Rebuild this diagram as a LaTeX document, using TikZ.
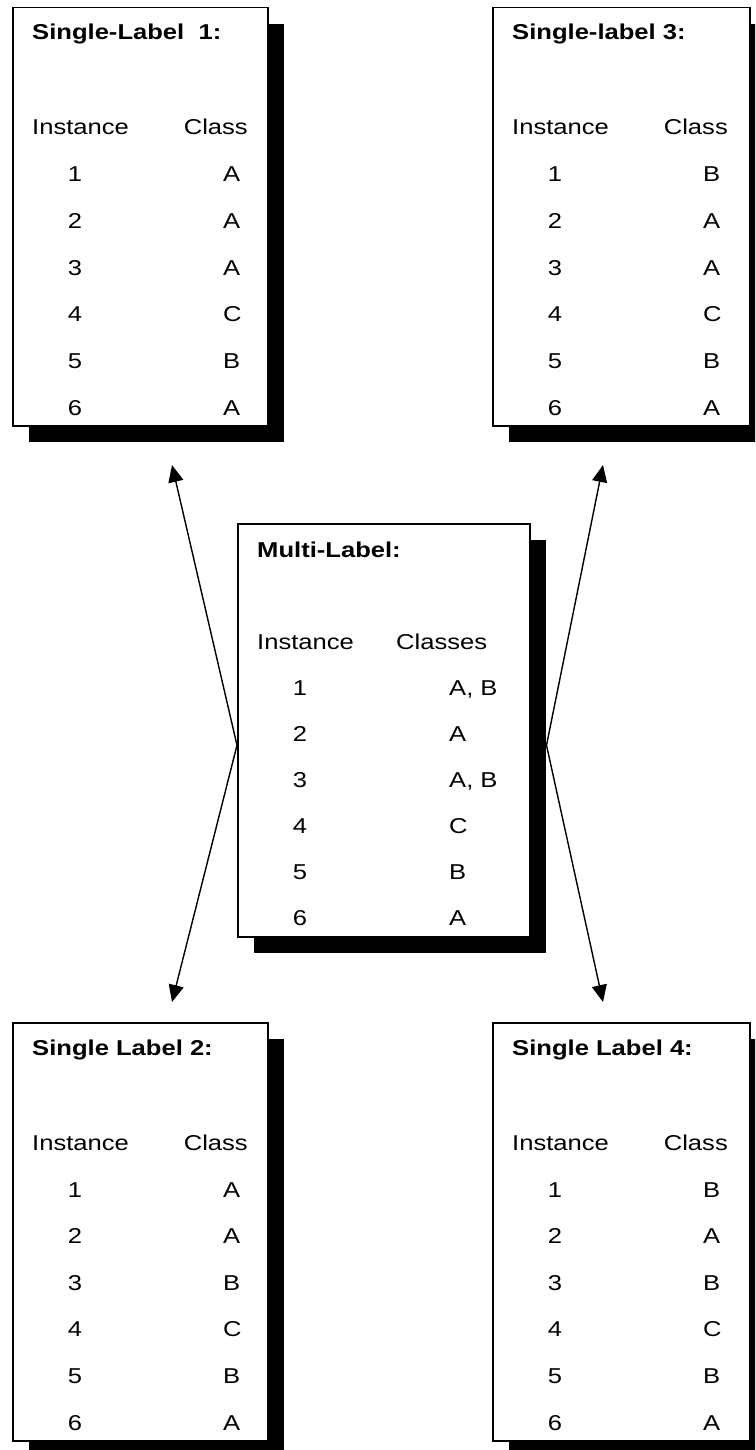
\documentclass[tikz,border=0pt]{standalone}
\usepackage{fontspec}
\setmainfont{Liberation Sans}[FakeStretch=1.19]
\usetikzlibrary{shadows,arrows.meta}
\tikzset{
  tbl/.style={draw=black, line width=1.5pt, fill=white, anchor=north west, inner sep=0pt,
    drop shadow={shadow xshift=16pt, shadow yshift=-16.5pt, fill=black, opacity=1}},
  txt/.style={inner sep=0pt, font=\fontsize{21.5}{26}\selectfont},
  ttl/.style={txt, font=\fontsize{21.5}{26}\selectfont\bfseries, anchor=base west},
  conn/.style={line width=1.4pt, -{Triangle[length=17pt,width=15pt]}}
}
\newcommand\mktable[6]{%
  \node[tbl, minimum width=#4, minimum height=418pt] (#1) at (#2,#3) {};
  \node[ttl] (#1-t) at (#2+20,#3+33) {#5};
  \node[txt, anchor=base west] (#1-h1) at (#2+20,#3+128) {Instance};
  \node[txt, anchor=base east] (#1-h2) at (#2+236,#3+128) {Class};
  \foreach \cc [count=\k] in {#6} {
    \node[txt, anchor=base] (#1-n\k) at (#2+63,{#3+175+46.6*(\k-1)}) {\k};
    \node[txt, anchor=base west] (#1-c\k) at (#2+211,{#3+175+46.6*(\k-1)}) {\cc};
  }
}
\begin{document}
\begin{tikzpicture}[x=1pt,y=-1pt]
\useasboundingbox (0,0) rectangle (755,1450);
\clip (0,0) rectangle (755,1450);
\mktable{s1}{12}{7}{255pt}{Single-Label~~1:}{A,A,A,C,B,A}
\mktable{s3}{492}{7}{257pt}{Single-label 3:}{B,A,A,C,B,A}
\mktable{s2}{12}{1022}{255pt}{Single Label 2:}{A,A,B,C,B,A}
\mktable{s4}{492}{1022}{257pt}{Single Label 4:}{B,A,B,C,B,A}
% middle multi-label box
\node[tbl, minimum width=292pt, minimum height=413pt] (m) at (237,523) {};
\node[ttl] (m-t) at (257,557) {Multi-Label:};
\node[txt, anchor=base west] (m-h1) at (257,649) {Instance};
\node[txt, anchor=base west] (m-h2) at (396,649) {Classes};
\foreach \cc [count=\k] in {{A, B},A,{A, B},C,B,A} {
  \node[txt, anchor=base] (m-n\k) at (300,{695+46*(\k-1)}) {\k};
  \node[txt, anchor=base west] (m-c\k) at (449,{695+46*(\k-1)}) {\cc};
}
% arrow targets
\coordinate (a1) at (172,465);
\coordinate (a3) at (603,465);
\coordinate (a2) at (172,1002);
\coordinate (a4) at (603,1002);
\coordinate (mL) at ([yshift=-15pt]m.west);
\coordinate (mR) at ([xshift=16pt,yshift=-15pt]m.east);
\draw[conn] (mL) -- (a1);
\draw[conn] (mL) -- (a2);
\draw[conn] (mR) -- (a3);
\draw[conn] (mR) -- (a4);
\end{tikzpicture}
\end{document}
